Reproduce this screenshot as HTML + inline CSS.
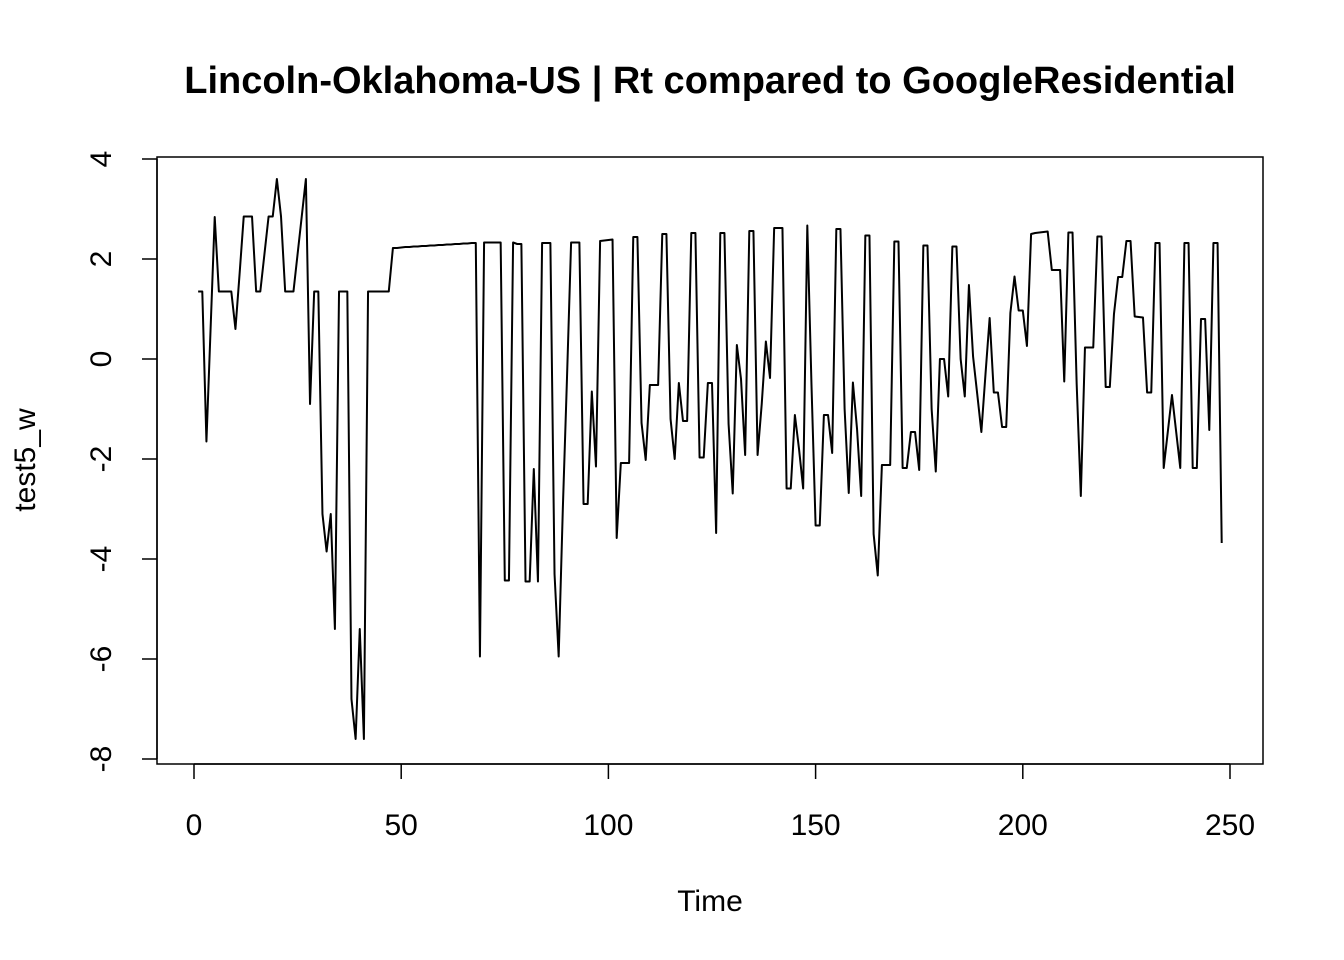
<!DOCTYPE html>
<html><head><meta charset="utf-8"><style>
html,body{margin:0;padding:0;background:#fff;}
svg{display:block;font-family:"Liberation Sans",Arial,sans-serif;}
</style></head><body>
<svg id="chart" width="1344" height="960" viewBox="0 0 1344 960">
<text x="710" y="93" text-anchor="middle" font-size="38" font-weight="bold">Lincoln-Oklahoma-US | Rt compared to GoogleResidential</text>
<rect x="157" y="157" width="1106" height="607" fill="none" stroke="#000" stroke-width="1.5"/>
<g id="xaxis"></g>
<g id="yaxis"></g>
<text x="710" y="911" text-anchor="middle" font-size="30">Time</text>
<text transform="translate(35,460) rotate(-90)" text-anchor="middle" font-size="30">test5_w</text>
<path id="series" fill="none" stroke="#000" stroke-width="2" stroke-linejoin="round"/>
</svg>
<script>
const values = [1.35,1.35,-1.65,0.6,2.84,1.35,1.35,1.35,1.35,0.6,
1.7,2.85,2.85,2.85,1.35,1.35,2.1,2.85,2.85,3.6,
2.85,1.35,1.35,1.35,2.1,2.85,3.6,-0.9,1.35,1.35,
-3.1,-3.85,-3.1,-5.4,1.35,1.35,1.35,-6.8,-7.6,-5.4,
-7.6,1.35,1.35,1.35,1.35,1.35,1.35,2.22,2.22,2.23,
2.24,2.24,2.25,2.25,2.26,2.26,2.27,2.27,2.28,2.28,
2.29,2.29,2.30,2.30,2.31,2.31,2.32,2.32,-5.95,2.33,
2.33,2.33,2.33,2.33,-4.43,-4.43,2.33,2.3,2.3,-4.45,
-4.45,-2.2,-4.45,2.32,2.32,2.32,-4.3,-5.95,-3.0,-0.4,
2.33,2.33,2.33,-2.9,-2.9,-0.65,-2.15,2.36,2.37,2.38,
2.39,-3.58,-2.08,-2.08,-2.08,2.44,2.44,-1.28,-2.02,-0.52,
-0.52,-0.52,2.5,2.5,-1.2,-2.0,-0.48,-1.24,-1.24,2.52,
2.52,-1.97,-1.97,-0.48,-0.48,-3.48,2.52,2.52,-1.3,-2.69,
0.28,-0.4,-1.92,2.56,2.56,-1.92,-0.9,0.35,-0.38,2.62,
2.62,2.62,-2.59,-2.59,-1.12,-1.8,-2.59,2.67,-0.5,-3.33,
-3.33,-1.12,-1.12,-1.88,2.6,2.6,-1.0,-2.68,-0.47,-1.4,
-2.74,2.47,2.47,-3.5,-4.33,-2.12,-2.12,-2.12,2.35,2.35,
-2.18,-2.18,-1.46,-1.46,-2.22,2.27,2.27,-1.0,-2.25,0.0,
0.0,-0.75,2.25,2.25,0.0,-0.75,1.48,0.05,-0.7,-1.46,
-0.3,0.82,-0.67,-0.67,-1.36,-1.36,0.92,1.65,0.97,0.97,
0.26,2.5,2.52,2.53,2.54,2.55,1.78,1.78,1.78,-0.45,
2.53,2.53,-0.5,-2.74,0.23,0.23,0.23,2.45,2.45,-0.56,
-0.56,0.9,1.64,1.64,2.36,2.36,0.85,0.84,0.83,-0.67,
-0.67,2.32,2.32,-2.18,-1.45,-0.72,-1.45,-2.18,2.32,2.32,
-2.18,-2.18,0.8,0.8,-1.42,2.32,2.32,-3.68];
const xTicks = [0,50,100,150,200,250];
const yTicks = [-8,-6,-4,-2,0,2,4];
const NS='http://www.w3.org/2000/svg';
function xs(t){return 194 + t*(1230-194)/250;}
function ys(v){return 359 - v*(759-159)/12;}
const xa=document.getElementById('xaxis');
const ya=document.getElementById('yaxis');
function mk(tag,attrs,parent){const e=document.createElementNS(NS,tag);for(const k in attrs)e.setAttribute(k,attrs[k]);parent.appendChild(e);return e;}
const xl=mk('line',{x1:xs(xTicks[0]),x2:xs(xTicks[xTicks.length-1]),y1:764,y2:764,stroke:'#000','stroke-width':1.5},xa);


xTicks.forEach(t=>{
  const tk=mk('line',{x1:xs(t),x2:xs(t),y1:764,y2:779,stroke:'#000','stroke-width':1.5},xa);
  
  
  const lb=mk('text',{x:xs(t),y:835,'text-anchor':'middle','font-size':30},xa);
  lb.textContent=t;
  
  
});
const yl=mk('line',{x1:157,x2:157,y1:ys(yTicks[0]),y2:ys(yTicks[yTicks.length-1]),stroke:'#000','stroke-width':1.5},ya);


yTicks.forEach(v=>{
  const tk=mk('line',{x1:142,x2:157,y1:ys(v),y2:ys(v),stroke:'#000','stroke-width':1.5},ya);
  
  
  const lb=mk('text',{transform:'translate(111,'+ys(v)+') rotate(-90)','text-anchor':'middle','font-size':30},ya);
  lb.textContent=v;
  
  
});
let d='';
values.forEach((v,i)=>{d+=(i?'L':'M')+xs(i+1).toFixed(2)+','+ys(v).toFixed(2);});
document.getElementById('series').setAttribute('d',d);
</script>
</body></html>
